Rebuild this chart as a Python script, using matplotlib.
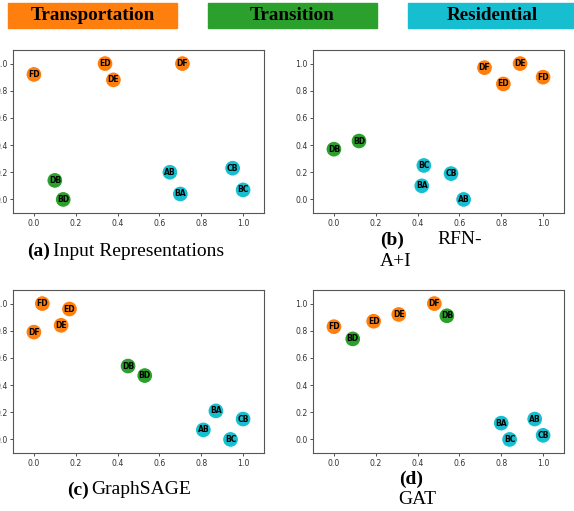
import matplotlib.pyplot as plt
from matplotlib.patches import Rectangle

W, H = 574, 511

labels_a = ["FD", "ED", "DE", "DF", "DB", "BD", "AB", "BA", "CB", "BC"]
x_a = [0.0, 0.34, 0.38, 0.71, 0.10, 0.14, 0.65, 0.70, 0.95, 1.0]
y_a = [0.92, 1.0, 0.88, 1.0, 0.14, 0.0, 0.20, 0.04, 0.23, 0.07]

labels_b = ["DF", "DE", "ED", "FD", "DB", "BD", "BC", "CB", "BA", "AB"]
x_b = [0.72, 0.89, 0.81, 1.0, 0.0, 0.12, 0.43, 0.56, 0.42, 0.62]
y_b = [0.97, 1.0, 0.85, 0.90, 0.37, 0.43, 0.25, 0.19, 0.10, 0.0]

labels_c = ["FD", "ED", "DE", "DF", "DB", "BD", "BA", "CB", "AB", "BC"]
x_c = [0.04, 0.17, 0.13, 0.0, 0.45, 0.53, 0.87, 1.0, 0.81, 0.94]
y_c = [1.0, 0.96, 0.84, 0.79, 0.54, 0.47, 0.21, 0.15, 0.07, 0.0]

labels_d = ["FD", "BD", "ED", "DE", "DF", "DB", "BA", "BC", "AB", "CB"]
x_d = [0.0, 0.09, 0.19, 0.31, 0.48, 0.54, 0.80, 0.84, 0.96, 1.0]
y_d = [0.83, 0.74, 0.87, 0.92, 1.0, 0.91, 0.12, 0.0, 0.15, 0.03]

groups = ["Transportation", "Transition", "Residential"]
group_colors = ["#ff7f0e", "#2ca02c", "#17becf"]


def node_color(name):
    # transportation: pairs among D/E/F, transition: D<->B, residential: A/B/C
    if set(name) <= set("DEF"):
        return group_colors[0]
    if set(name) == {"D", "B"}:
        return group_colors[1]
    return group_colors[2]


def draw_panel(ax, xs, ys, names):
    ax.scatter(xs, ys, s=130, c=[node_color(n) for n in names],
               edgecolors="white", linewidths=0.8, zorder=2)
    for x, y, n in zip(xs, ys, names):
        ax.text(x, y, n, ha="center", va="center", fontsize=5.5,
                fontweight="bold", color="black", zorder=3)
    ax.set_xlim(-0.1, 1.1)
    ax.set_ylim(-0.1, 1.1)
    ticks = [0.0, 0.2, 0.4, 0.6, 0.8, 1.0]
    ax.set_xticks(ticks)
    ax.set_yticks(ticks)
    ax.set_xticklabels([f"{t:.1f}" for t in ticks])
    ax.set_yticklabels([f"{t:.1f}" for t in ticks])
    ax.tick_params(labelsize=5.6, colors="#333333", length=2, width=0.6, pad=2)
    for sp in ax.spines.values():
        sp.set_color("#555555")
        sp.set_linewidth(0.8)


fig = plt.figure(figsize=(W / 100, H / 100), dpi=100)


def px_axes(left, top, right, bottom):
    return fig.add_axes([left / W, 1 - bottom / H, (right - left) / W, (bottom - top) / H])


ax_a = px_axes(13, 50, 264, 213)
ax_b = px_axes(313, 50, 564, 213)
ax_c = px_axes(13, 290, 264, 453)
ax_d = px_axes(313, 290, 564, 453)

draw_panel(ax_a, x_a, y_a, labels_a)
draw_panel(ax_b, x_b, y_b, labels_b)
draw_panel(ax_c, x_c, y_c, labels_c)
draw_panel(ax_d, x_d, y_d, labels_d)

# legend strip
serif = "Liberation Serif"
box_left = [8, 208, 408]
for x0, name, col in zip(box_left, groups, group_colors):
    fig.patches.append(Rectangle((x0 / W, 1 - 28 / H), 169 / W, 25 / H,
                                 transform=fig.transFigure, color=col, zorder=0))
    fig.text((x0 + 84.5) / W, 1 - 15 / H, name, ha="center", va="center",
             fontsize=13.8, fontweight="bold", family=serif)


def caption(x, y, s, bold=False):
    fig.text(x / W, 1 - y / H, s, ha="left", va="center", fontsize=14,
             fontweight="bold" if bold else "normal", family=serif)


caption(27, 251, "(a)", bold=True)
caption(53, 251, "Input Representations")
caption(380, 240, "(b)", bold=True)
caption(437, 240, "RFN-")
caption(380, 262, "A+I")
caption(67, 490, "(c)", bold=True)
caption(91, 490, "GraphSAGE")
caption(399, 479, "(d)", bold=True)
caption(398, 499, "GAT")

fig.savefig("out.png", dpi=100)
